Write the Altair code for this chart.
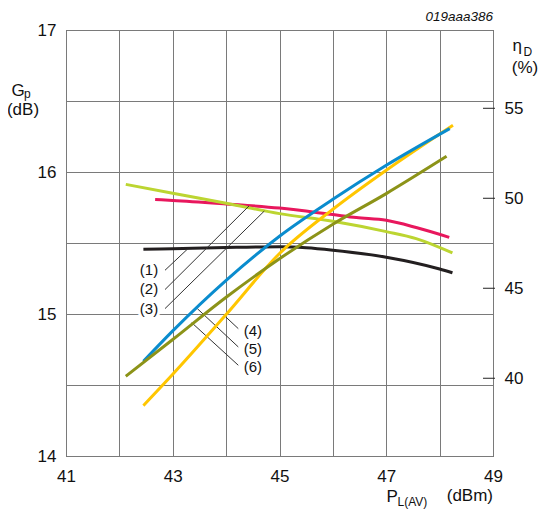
import altair as alt
import pandas as pd

# ---- data ----
# Power gain Gp (dB) curves (1)-(3)
gp1_p = [42.45, 43.0, 44.0, 45.0, 45.5, 46.0, 47.0, 48.0, 48.24]
gp1_v = [15.456, 15.46, 15.468, 15.473, 15.466, 15.449, 15.40, 15.317, 15.29]
gp2_p = [42.67, 43.0, 44.0, 45.0, 46.0, 46.44, 47.0, 47.56, 48.18]
gp2_v = [15.806, 15.80, 15.775, 15.746, 15.70, 15.679, 15.66, 15.609, 15.54]
gp3_p = [42.12, 43.0, 44.0, 45.0, 46.0, 47.0, 47.56, 48.24]
gp3_v = [15.913, 15.85, 15.78, 15.707, 15.653, 15.58, 15.531, 15.43]

# Drain efficiency etaD (%) curves (4)-(6)
eta4_p = [42.45, 43.0, 44.0, 45.0, 46.0, 47.0, 48.25]
eta4_v = [38.48, 40.22, 43.54, 46.93, 49.39, 51.56, 54.06]
eta5_p = [42.45, 43.0, 44.0, 45.0, 46.0, 47.0, 48.19]
eta5_v = [40.94, 42.63, 45.44, 47.89, 49.94, 51.83, 53.87]
eta6_p = [42.12, 43.0, 44.0, 45.0, 46.0, 47.0, 48.13]
eta6_v = [40.11, 42.15, 44.5, 46.64, 48.56, 50.26, 52.33]

series_names = ["(1)", "(2)", "(3)", "(4)", "(5)", "(6)"]
series_colors = ["#231f20", "#e8175d", "#bcd531", "#ffc600", "#0a8cce", "#8c9318"]

x_ticks = [41, 42, 43, 44, 45, 46, 47, 48, 49]
gp_ticks = [14, 14.5, 15, 15.5, 16, 16.5, 17]
eta_ticks = [40, 45, 50, 55]

# curve labels and leader lines (in P / Gp units)
lab_text = ["(1)", "(2)", "(3)", "(4)", "(5)", "(6)"]
lab_p = [42.555, 42.555, 42.555, 44.50, 44.50, 44.50]
lab_g = [15.308, 15.174, 15.037, 14.880, 14.751, 14.625]
lead_p1 = [42.855, 42.855, 42.855, 44.228, 44.228, 44.228]
lead_g1 = [15.308, 15.172, 15.038, 14.897, 14.768, 14.639]
lead_p2 = [43.273, 44.429, 44.715, 43.960, 43.460, 43.355]
lead_g2 = [15.456, 15.761, 15.725, 14.991, 15.038, 14.939]

FONT = "Liberation Sans"
FS = 17

def frame(ps, vs, name):
    return pd.DataFrame({"P": ps, "v": vs, "s": name})

gp_df = pd.concat([frame(gp1_p, gp1_v, "(1)"), frame(gp2_p, gp2_v, "(2)"),
                   frame(gp3_p, gp3_v, "(3)")])
eta_df = pd.concat([frame(eta4_p, eta4_v, "(4)"), frame(eta5_p, eta5_v, "(5)"),
                    frame(eta6_p, eta6_v, "(6)")])

xscale = alt.Scale(domain=[41, 49], nice=False, zero=False)
gscale = alt.Scale(domain=[14, 17], nice=False, zero=False)
escale = alt.Scale(domain=[35.68, 59.35], nice=False, zero=False)
cscale = alt.Scale(domain=series_names, range=series_colors)

xaxis = alt.Axis(values=x_ticks, grid=True, ticks=False, domain=False, title=None,
                 labelExpr="datum.value % 2 == 1 ? format(datum.value, 'd') : ''",
                 labelPadding=12, labelFontSize=FS, labelFont=FONT, labelColor="#111",
                 gridColor="#7a7a7a", gridWidth=1, labelFlush=False)
gaxis = alt.Axis(values=gp_ticks, grid=True, ticks=False, domain=False, title=None,
                 labelExpr="datum.value % 1 == 0 ? format(datum.value, 'd') : ''",
                 labelPadding=10, labelFontSize=FS, labelFont=FONT, labelColor="#111",
                 gridColor="#7a7a7a", gridWidth=1, labelFlush=False)
eaxis = alt.Axis(values=eta_ticks, grid=False, ticks=False, domain=False, title=None,
                 orient="right", labelPadding=11, labelFontSize=FS, labelFont=FONT,
                 labelColor="#111", labelFlush=False, format="d")

gp_lines = alt.Chart(gp_df).mark_line(strokeWidth=3, interpolate="monotone").encode(
    x=alt.X("P:Q", scale=xscale, axis=xaxis),
    y=alt.Y("v:Q", scale=gscale, axis=gaxis),
    color=alt.Color("s:N", scale=cscale, legend=None),
)

lead_df = pd.DataFrame({"p1": lead_p1, "g1": lead_g1, "p2": lead_p2, "g2": lead_g2})
leaders = alt.Chart(lead_df).mark_rule(color="#333", strokeWidth=1).encode(
    x="p1:Q", y="g1:Q", x2="p2:Q", y2="g2:Q")

lab_df = pd.DataFrame({"t": lab_text, "p": lab_p, "g": lab_g})
halo = alt.Chart(lab_df).mark_text(font=FONT, fontSize=15, stroke="white", strokeWidth=6,
                                   color="white").encode(x="p:Q", y="g:Q", text="t:N")
labels = alt.Chart(lab_df).mark_text(font=FONT, fontSize=15, color="#111").encode(
    x="p:Q", y="g:Q", text="t:N")

def txt(s, x, y, size=FS, align="left", style="normal"):
    return alt.Chart(pd.DataFrame({"t": [s]})).mark_text(
        font=FONT, fontSize=size, align=align, baseline="alphabetic", color="#111",
        fontStyle=style).encode(text="t:N", x=alt.value(x), y=alt.value(y))

titles = [
    txt("G", -48, 66, align="center"),
    txt("p", -42, 68, size=12),
    txt("(dB)", -43, 84.5, align="center"),
    txt("\u03b7", 446.5, 20.5),
    txt("D", 457.5, 25.5, size=12),
    txt("(%)", 459, 42.5, align="center"),
    txt("P", 320.5, 471.5),
    txt("L(AV)", 331.5, 475.5, size=12),
    txt("(dBm)", 427, 471, align="right"),
    txt("019aaa386", 427, -9, size=13.5, align="right", style="italic"),
]

gp_layer = alt.layer(gp_lines, leaders, halo, labels, *titles)

eta_lines = alt.Chart(eta_df).mark_line(strokeWidth=3, interpolate="monotone").encode(
    x=alt.X("P:Q", scale=xscale, axis=xaxis),
    y=alt.Y("v:Q", scale=escale, axis=eaxis),
    color=alt.Color("s:N", scale=cscale, legend=None),
)
etick_df = pd.DataFrame({"e": eta_ticks})
eta_tick_marks = alt.Chart(etick_df).mark_rule(color="#222", strokeWidth=1).encode(
    y=alt.Y("e:Q", scale=escale, axis=eaxis), x=alt.value(417), x2=alt.value(429))

eta_layer = alt.layer(eta_lines, eta_tick_marks)

chart = alt.layer(gp_layer, eta_layer).resolve_scale(
    y="independent", color="shared").properties(
    width=427, height=426,
    padding={"left": 58, "top": 22, "right": 50, "bottom": 53},
    autosize=alt.AutoSizeParams(type="none"),
    background="white",
).configure_view(stroke="#333", strokeWidth=1)

chart.save("out.html", embed_options={"renderer": "svg", "actions": False})
